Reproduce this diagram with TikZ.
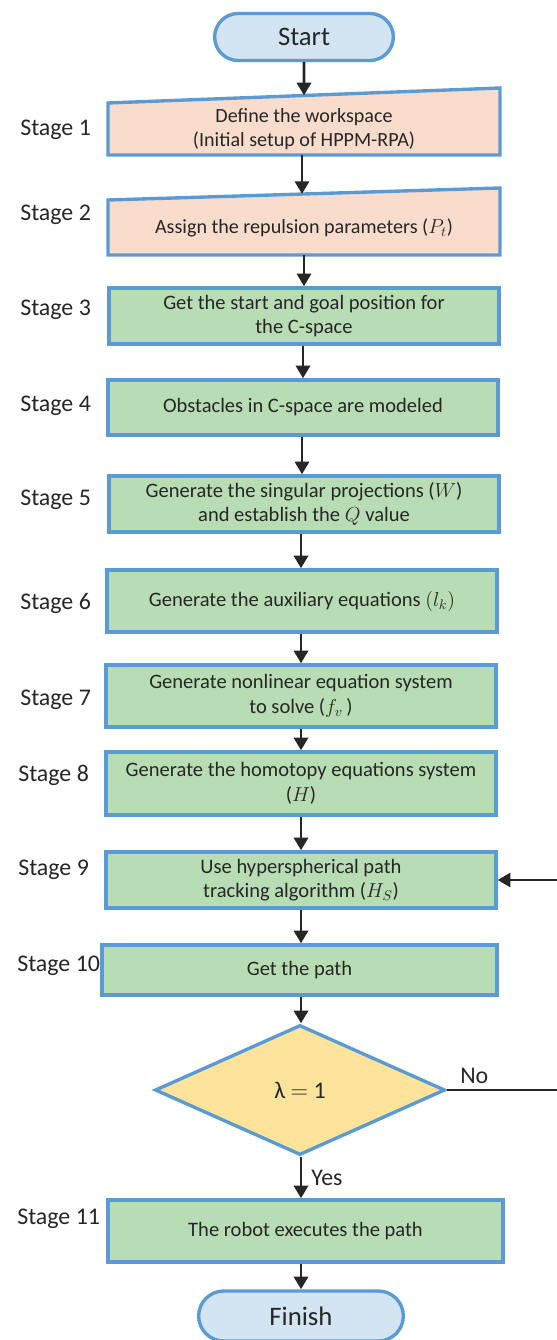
\documentclass[tikz,border=0pt]{standalone}
\usepackage{fontspec}
\setmainfont{Carlito}
\usetikzlibrary{shapes.geometric,shapes.misc,arrows.meta,backgrounds}

\definecolor{edgeblue}{HTML}{5B9BD5}
\definecolor{boxgreen}{HTML}{B8DCB4}
\definecolor{inputpeach}{HTML}{F9DCCB}
\definecolor{termblue}{HTML}{D3E5F3}
\definecolor{decyellow}{HTML}{FDE49A}

\begin{document}
\begin{tikzpicture}[
    x = 0.025cm, y = -0.025cm,
    every node/.style = {text = black!85},
    stagebox/.style = {
        draw = edgeblue, line width = 2.4pt, fill = boxgreen,
        minimum width = 9.75cm, align = center, inner sep = 2pt,
        font = \fontsize{14.6}{17.5}\selectfont
    },
    inputbox/.style = {
        minimum width = 9.8cm, align = center, outer sep = 0pt,
        font = \fontsize{14.3}{17.5}\selectfont
    },
    inputshape/.style = {draw = edgeblue, line width = 2.4pt, fill = inputpeach},
    terminal/.style = {
        rounded rectangle, draw = edgeblue, line width = 2.4pt, fill = termblue,
        font = \fontsize{19}{22}\selectfont
    },
    decision/.style = {
        diamond, draw = edgeblue, line width = 2.4pt, fill = decyellow,
        minimum width = 7.25cm, minimum height = 3.25cm, inner sep = 0pt,
        font = \fontsize{17}{20}\selectfont
    },
    stagelabel/.style = {anchor = west, inner sep = 0pt, font = \fontsize{17}{20}\selectfont},
    flowline/.style = {line width = 2.1pt, draw = black!85, -{Triangle[length = 9pt, width = 10pt]}},
    loopline/.style = {line width = 2.1pt, draw = black!85}
]

\useasboundingbox (0,0) rectangle (557,1340);

% terminals
\node [terminal, minimum width = 4.7cm, minimum height = 1.175cm] (start) at (304,37) {Start};
\node [terminal, minimum width = 5.35cm, minimum height = 1.25cm] (finish) at (301,1316) {Finish};

% manual input stages
\node [inputbox, minimum height = 1.3cm] (s1) at (304,129)
    {Define the workspace\\(Initial setup of HPPM-RPA)};
\node [inputbox, minimum height = 1.375cm] (s2) at (304,227.5)
    {Assign the repulsion parameters ($P_t$)};
\begin{scope}[on background layer]
    \filldraw [inputshape] (s1.south west) -- (s1.south east)
        -- ([yshift = 0.375cm]s1.north east) -- (s1.north west) -- cycle;
    \filldraw [inputshape] (s2.south west) -- (s2.south east)
        -- ([yshift = 0.3cm]s2.north east) -- (s2.north west) -- cycle;
\end{scope}

% process stages
\node [stagebox, minimum height = 1.4cm] (s3) at (304,316)
    {Get the start and goal position for\\the C-space};
\node [stagebox, minimum height = 1.375cm] (s4) at (303,407.5)
    {Obstacles in C-space are modeled};
\node [stagebox, minimum height = 1.4cm] (s5) at (304,504)
    {Generate the singular projections ($W$)\\and establish the $Q$ value};
\node [stagebox, minimum height = 1.55cm] (s6) at (302,601)
    {Generate the auxiliary equations $\Big(l_k\Big)$};
\node [stagebox, minimum height = 1.55cm] (s7) at (301,696)
    {Generate nonlinear equation system\\to solve ($f_v$\,)};
\node [stagebox, minimum height = 1.575cm] (s8) at (301,783.5)
    {Generate the homotopy equations system\\($H$)};
\node [stagebox, minimum height = 1.4cm] (s9) at (301,880)
    {Use hyperspherical path\\tracking algorithm ($H_S$)};
\node [stagebox, minimum height = 1.25cm, minimum width = 9.875cm] (s10) at (299.5,970)
    {Get the path};
\node [decision] (check) at (300,1090) {λ $=$ 1};
\node [stagebox, minimum height = 1.55cm, minimum width = 9.875cm] (s11) at (305.5,1231)
    {The robot executes the path};

% stage labels
\node [stagelabel] (l1) at (20,130) {Stage 1};
\node [stagelabel] (l2) at (20,215) {Stage 2};
\node [stagelabel] (l3) at (20,310) {Stage 3};
\node [stagelabel] (l4) at (20,406) {Stage 4};
\node [stagelabel] (l5) at (20,500) {Stage 5};
\node [stagelabel] (l6) at (20,603) {Stage 6};
\node [stagelabel] (l7) at (20,700) {Stage 7};
\node [stagelabel] (l8) at (18,775) {Stage 8};
\node [stagelabel] (l9) at (18,870) {Stage 9};
\node [stagelabel] (l10) at (17,966) {Stage 10};
\node [stagelabel] (l11) at (17,1219) {Stage 11};

% connectors
\draw [flowline] (start) -- ([yshift = 0.19cm]s1.north);
\draw [flowline] (s1.south -| 302,0) -- ([yshift = 0.15cm]s2.north -| 302,0);
\draw [flowline] (s2.south -| 304,0) -- (s3.north -| 304,0);
\draw [flowline] (s3.south -| 303,0) -- (s4.north -| 303,0);
\draw [flowline] (s4.south -| 302,0) -- (s5.north -| 302,0);
\draw [flowline] (s5.south -| 301,0) -- (s6.north -| 301,0);
\draw [flowline] (s6.south -| 301,0) -- (s7.north -| 301,0);
\draw [flowline] (s7.south -| 301,0) -- (s8.north -| 301,0);
\draw [flowline] (s8.south -| 301,0) -- (s9.north -| 301,0);
\draw [flowline] (s9.south -| 301,0) -- (s10.north -| 301,0);
\draw [flowline] (s10.south -| 301,0) -- (check.north -| 301,0);
\draw [flowline] (check.south -| 301,0) -- node [right, xshift = 3pt, font = \fontsize{17}{20}\selectfont] (yes) {Yes} (s11.north -| 301,0);
\draw [flowline] (s11.south -| 301,0) -- (finish.north -| 301,0);

% loop back
\coordinate (noend) at (557,1090);
\coordinate (loopin) at (557,880);
\draw [loopline] (check.east) -- node [above, pos = 0.25, font = \fontsize{17}{20}\selectfont] (no) {No} (noend);
\draw [flowline] (loopin) -- (s9.east);

\end{tikzpicture}
\end{document}
